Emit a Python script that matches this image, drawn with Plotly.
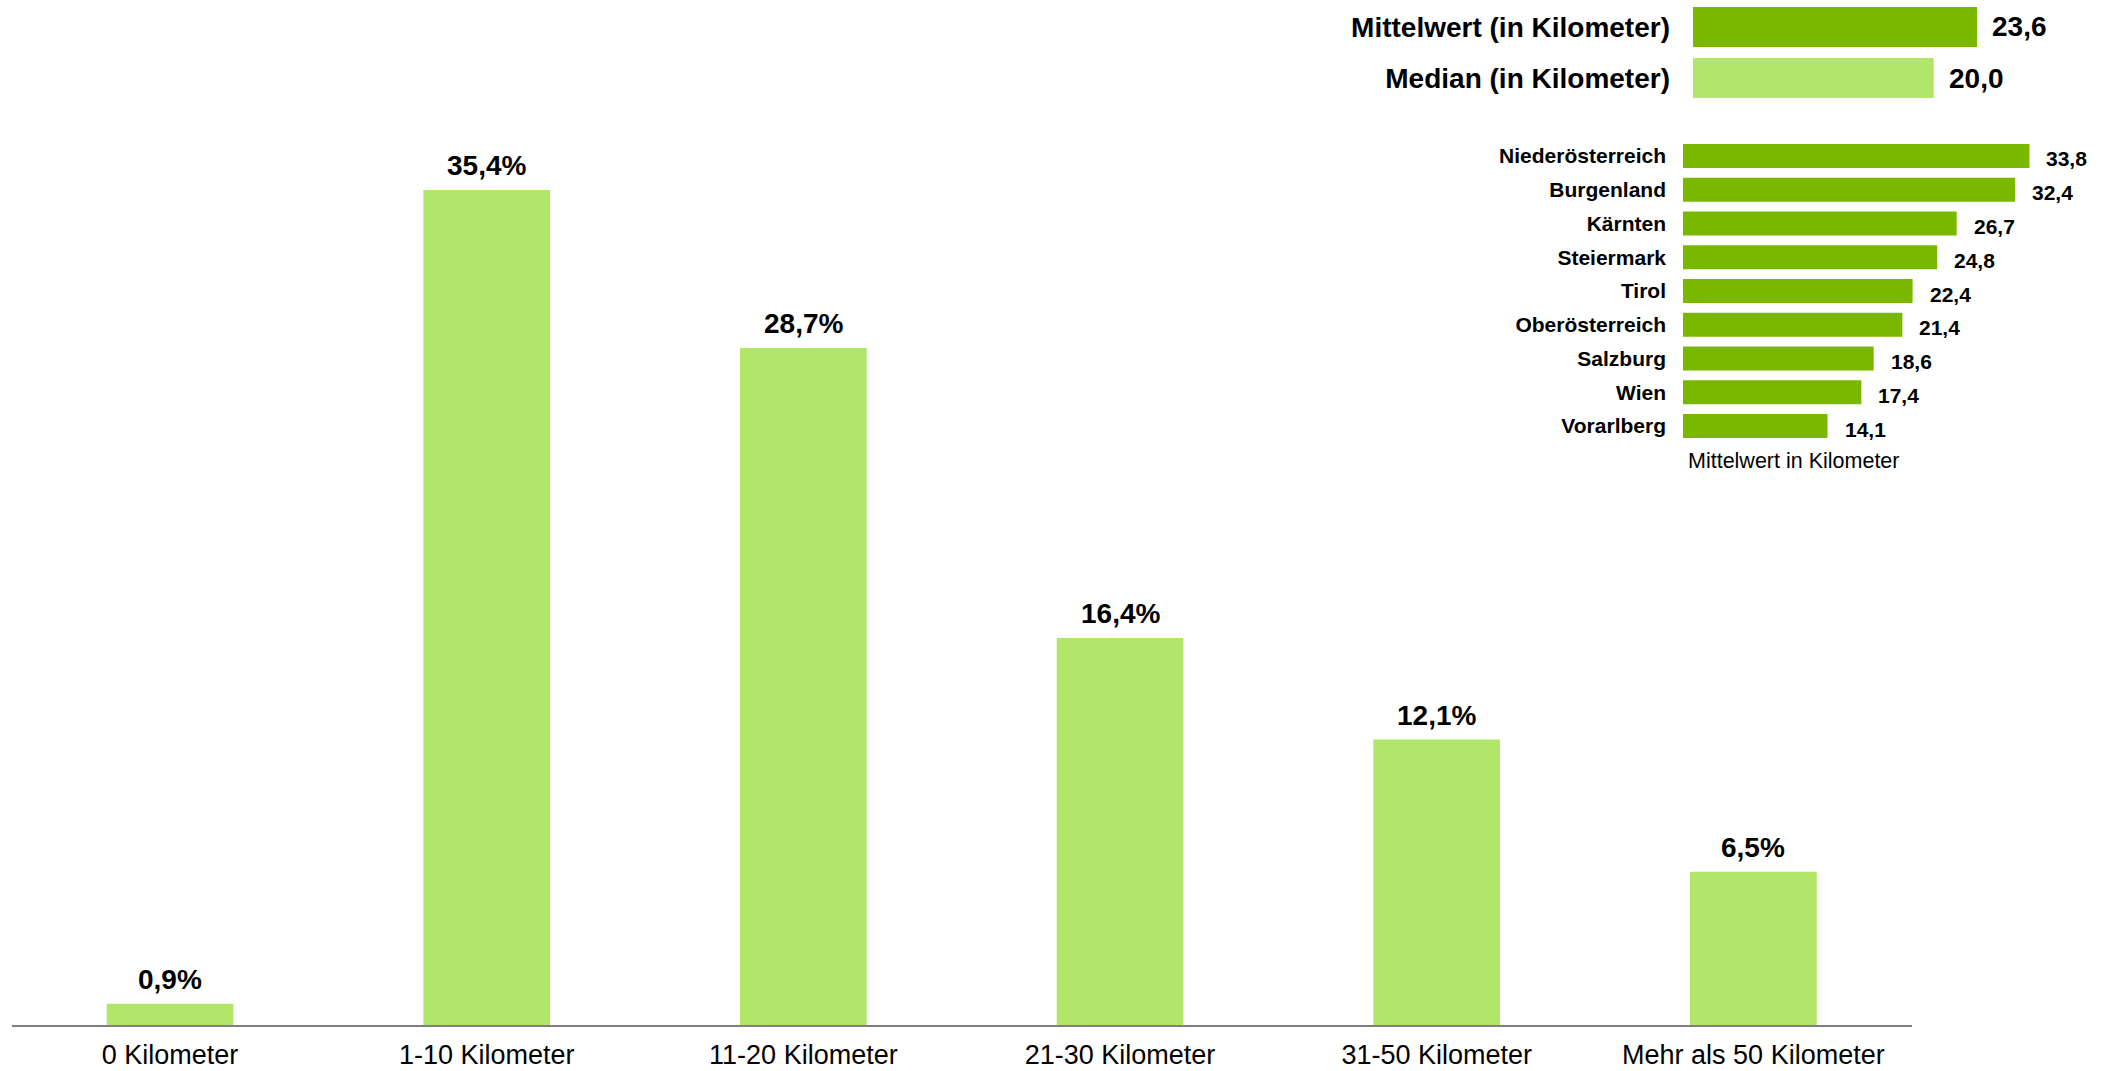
import plotly.graph_objects as go

# Main distribution
categories = ["0 Kilometer", "1-10 Kilometer", "11-20 Kilometer", "21-30 Kilometer",
              "31-50 Kilometer", "Mehr als 50 Kilometer"]
shares = [0.9, 35.4, 28.7, 16.4, 12.1, 6.5]

# Summary statistics
stat_labels = ["Mittelwert (in Kilometer)", "Median (in Kilometer)"]
stat_values = [23.6, 20.0]

# Regional means
regions = ["Niederösterreich", "Burgenland", "Kärnten", "Steiermark", "Tirol",
           "Oberösterreich", "Salzburg", "Wien", "Vorarlberg"]
region_values = [33.8, 32.4, 26.7, 24.8, 22.4, 21.4, 18.6, 17.4, 14.1]

W, H = 2113, 1071
FONT = "Arial, Liberation Sans, sans-serif"
LIGHT = "#B2E66A"
DARK = "#7AB800"

fig = go.Figure()

# main bars
fig.add_trace(go.Bar(x=categories, y=shares, marker_color=LIGHT, marker_line_width=0,
                     xaxis="x", yaxis="y", showlegend=False, hoverinfo="skip"))
for c, v in zip(categories, shares):
    fig.add_annotation(x=c, y=v, xref="x", yref="y", text=f"<b>{v:.1f}%</b>".replace(".", ","),
                       showarrow=False, yanchor="bottom", yshift=7,
                       font=dict(family=FONT, size=28, color="black"))

# summary stats
fig.add_trace(go.Bar(y=stat_labels, x=stat_values, orientation="h",
                     marker_color=[DARK, LIGHT], marker_line_width=0,
                     xaxis="x2", yaxis="y2", showlegend=False, hoverinfo="skip"))
for c, v in zip(stat_labels, stat_values):
    fig.add_annotation(x=v, y=c, xref="x2", yref="y2", text=f"<b>{v:.1f}</b>".replace(".", ","),
                       showarrow=False, xanchor="left", xshift=13,
                       font=dict(family=FONT, size=28, color="black"))

# regional bars
fig.add_trace(go.Bar(y=regions, x=region_values, orientation="h",
                     marker_color=DARK, marker_line_width=0,
                     xaxis="x3", yaxis="y3", showlegend=False, hoverinfo="skip"))
for c, v in zip(regions, region_values):
    fig.add_annotation(x=v, y=c, xref="x3", yref="y3", text=f"<b>{v:.1f}</b>".replace(".", ","),
                       showarrow=False, xanchor="left", xshift=15, yshift=-3,
                       font=dict(family=FONT, size=21, color="black"))

fig.add_annotation(x=1686 / W, y=1 - 461 / H, xref="paper", yref="paper",
                   text="Mittelwert in Kilometer", showarrow=False,
                   xanchor="left", yanchor="middle",
                   font=dict(family=FONT, size=21.5, color="black"))

fig.update_layout(
    width=W, height=H,
    margin=dict(l=0, r=0, t=0, b=0),
    paper_bgcolor="white", plot_bgcolor="rgba(0,0,0,0)",
    bargap=0.6,
    font=dict(family=FONT, color="black"),
    xaxis=dict(domain=[11.7 / W, 1911.7 / W], anchor="y", showgrid=False, zeroline=False,
               showline=True, linecolor="#7f7f7f", linewidth=2, ticks="",
               tickfont=dict(family=FONT, size=27, color="black"),
               ticklabelstandoff=5, automargin=False, fixedrange=True),
    yaxis=dict(domain=[46 / H, 1], range=[0, 1025 / 23.59], visible=False,
               showgrid=False, zeroline=False, fixedrange=True),
    xaxis2=dict(domain=[1693 / W, 2054 / W], range=[0, 30], anchor="y2", visible=False,
                showgrid=False, zeroline=False, fixedrange=True),
    yaxis2=dict(domain=[1 - 103.5 / H, 1 - 1.5 / H], anchor="x2", autorange="reversed",
                showgrid=False, zeroline=False, showline=False, ticks="",
                tickfont=dict(family=FONT, size=28, color="black"),
                tickprefix="<b>", ticksuffix="</b>",
                ticklabelstandoff=22, automargin=False, fixedrange=True),
    xaxis3=dict(domain=[1683 / W, 2093 / W], range=[0, 40], anchor="y3", visible=False,
                showgrid=False, zeroline=False, fixedrange=True),
    yaxis3=dict(domain=[1 - 442.9 / H, 1 - 139.1 / H], anchor="x3", autorange="reversed",
                showgrid=False, zeroline=False, showline=False, ticks="",
                tickfont=dict(family=FONT, size=21, color="black"),
                tickprefix="<b>", ticksuffix="</b>",
                ticklabelstandoff=16, automargin=False, fixedrange=True),
)

fig.data[1].width = 0.78
fig.data[2].width = 0.71

fig.write_html("out.html", config={"displayModeBar": False, "staticPlot": True},
               post_script="document.body.style.margin='0';document.body.style.overflow='hidden';")
